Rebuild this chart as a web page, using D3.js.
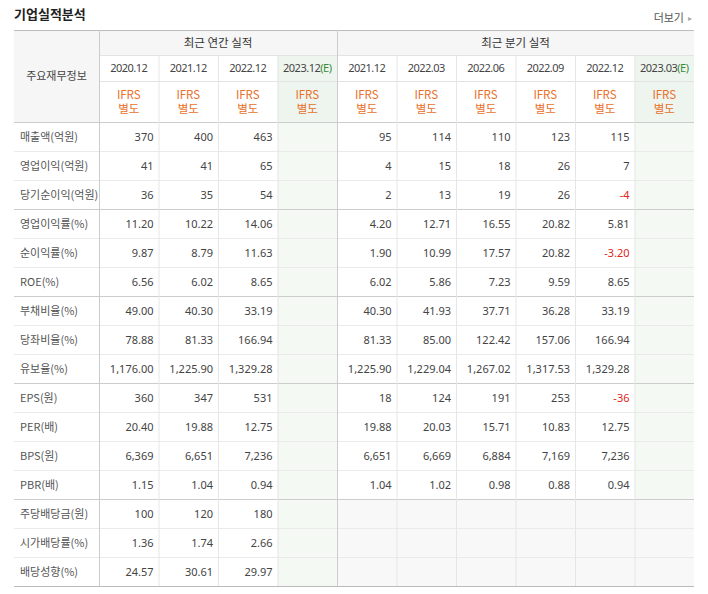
<!DOCTYPE html>
<html><head><meta charset="utf-8">
<script src="https://cdn.jsdelivr.net/npm/d3@7"></script>
<style>body{margin:0;background:#fff;font-family:"Noto Sans CJK KR","Noto Sans",sans-serif}</style>
</head><body><svg id="c" width="708" height="594"></svg>
<script>
'use strict';
var rowLabels = ['매출액(억원)','영업이익(억원)','당기순이익(억원)','영업이익률(%)','순이익률(%)','ROE(%)','부채비율(%)','당좌비율(%)','유보율(%)','EPS(원)','PER(배)','BPS(원)','PBR(배)','주당배당금(원)','시가배당률(%)','배당성향(%)'];
var annualPeriods = ['2020.12','2021.12','2022.12','2023.12'];
var quarterPeriods = ['2021.12','2022.03','2022.06','2022.09','2022.12','2023.03'];
var annualValues = [
  ['370','400','463',''],['41','41','65',''],['36','35','54',''],
  ['11.20','10.22','14.06',''],['9.87','8.79','11.63',''],['6.56','6.02','8.65',''],
  ['49.00','40.30','33.19',''],['78.88','81.33','166.94',''],['1,176.00','1,225.90','1,329.28',''],
  ['360','347','531',''],['20.40','19.88','12.75',''],['6,369','6,651','7,236',''],['1.15','1.04','0.94',''],
  ['100','120','180',''],['1.36','1.74','2.66',''],['24.57','30.61','29.97','']
];
var quarterValues = [
  ['95','114','110','123','115',''],['4','15','18','26','7',''],['2','13','19','26','-4',''],
  ['4.20','12.71','16.55','20.82','5.81',''],['1.90','10.99','17.57','20.82','-3.20',''],['6.02','5.86','7.23','9.59','8.65',''],
  ['40.30','41.93','37.71','36.28','33.19',''],['81.33','85.00','122.42','157.06','166.94',''],['1,225.90','1,229.04','1,267.02','1,317.53','1,329.28',''],
  ['18','124','191','253','-36',''],['19.88','20.03','15.71','10.83','12.75',''],['6,651','6,669','6,884','7,169','7,236',''],['1.04','1.02','0.98','0.88','0.94',''],
  null,null,null
];
var groupEnds = [2,5,8,12];

(() => {
  var svg = d3.select('#c');
  var L = 14, R = 694, labelW = 85, T0 = 30, B = 586;
  var cols = annualPeriods.map((p,i)=>({key:'a'+i,p:p,est:i===3}))
    .concat(quarterPeriods.map((p,i)=>({key:'q'+i,p:p,est:i===5})));
  var x = d3.scaleBand().domain(cols.map(c=>c.key)).range([L+labelW,R]);
  var y = d3.scaleBand().domain(d3.range(rowLabels.length)).range([122,B]);
  var bw = x.bandwidth(), bh = y.bandwidth();

  svg.append('text').attr('x',14).attr('y',19).attr('font-size',13).attr('font-weight','bold').attr('fill','#222').text('기업실적분석');
  svg.append('text').attr('x',684).attr('y',22).attr('font-size',11).attr('fill','#555').attr('text-anchor','end').text('더보기');
  svg.append('text').attr('x',692).attr('y',21).attr('font-size',8).attr('fill','#aaa').attr('text-anchor','end').text('▸');

  // backgrounds
  svg.append('rect').attr('x',L).attr('y',T0).attr('width',labelW).attr('height',92).attr('fill','#f6f6f6');
  svg.append('rect').attr('x',L+labelW).attr('y',T0).attr('width',R-L-labelW).attr('height',25).attr('fill','#f6f6f6');
  svg.selectAll('rect.hb').data(cols).join('rect').attr('x',d=>x(d.key)).attr('y',55).attr('width',bw).attr('height',67)
    .attr('fill',d=>d.est?'#eef5ee':'#fff');
  svg.selectAll('rect.est').data(cols.filter(c=>c.est)).join('rect').attr('x',d=>x(d.key)).attr('y',122).attr('width',bw).attr('height',B-122).attr('fill','#f4f9f4');
  svg.append('rect').attr('x',x('q0')).attr('y',y(13)).attr('width',R-x('q0')).attr('height',bh*3).attr('fill','#f8f8f8');

  var g = svg.append('g');
  function hl(x1,x2,yy,c){g.append('line').attr('x1',x1).attr('x2',x2).attr('y1',yy+0.5).attr('y2',yy+0.5).attr('stroke',c);}
  function vl(xx,y1,y2,c){g.append('line').attr('x1',xx+0.5).attr('x2',xx+0.5).attr('y1',y1).attr('y2',y2).attr('stroke',c);}
  hl(L,R,T0,'#bbb');
  hl(L+labelW,R,55,'#e3e3e3');
  hl(L+labelW,R,81,'#e3e3e3');
  hl(L,R,122,'#ccc');
  rowLabels.forEach((r,i)=>{ if(i<rowLabels.length-1) hl(L,R,y(i)+bh, groupEnds.includes(i)?'#ccc':'#eaeaea'); });
  hl(L,R,B,'#bbb');
  vl(L+labelW,T0,B,'#ccc');
  vl(x('q0'),T0,B,'#ccc');
  cols.forEach(c=>{ if(c.key!=='a0'&&c.key!=='q0') vl(x(c.key),55,B,'#e6e6e6'); });

  // headers
  svg.append('text').attr('x',L+labelW/2).attr('y',80).attr('text-anchor','middle').attr('font-size',11).attr('fill','#444').text('주요재무정보');
  svg.append('text').attr('x',(x('a0')+x('q0'))/2).attr('y',47).attr('text-anchor','middle').attr('font-size',11.5).attr('fill','#333').text('최근 연간 실적');
  svg.append('text').attr('x',(x('q0')+R)/2).attr('y',47).attr('text-anchor','middle').attr('font-size',11.5).attr('fill','#333').text('최근 분기 실적');
  var ph = svg.selectAll('text.p').data(cols).join('text').attr('x',d=>x(d.key)+bw/2).attr('y',72)
    .attr('text-anchor','middle').attr('font-size',11).attr('fill','#444').attr('font-family','Noto Sans,sans-serif').attr('letter-spacing',-0.5);
  ph.append('tspan').text(d=>d.p);
  ph.filter(d=>d.est).append('tspan').attr('fill','#3a8a3a').text('(E)');
  svg.selectAll('text.i1').data(cols).join('text').attr('x',d=>x(d.key)+bw/2).attr('y',99).attr('text-anchor','middle')
    .attr('font-size',11.5).attr('fill','#e8702a').text('IFRS');
  svg.selectAll('text.i2').data(cols).join('text').attr('x',d=>x(d.key)+bw/2).attr('y',113).attr('text-anchor','middle')
    .attr('font-size',11.5).attr('fill','#e8702a').text('별도');

  // rows
  svg.selectAll('text.rl').data(rowLabels).join('text').attr('x',L+6).attr('y',(d,i)=>y(i)+bh/2+4)
    .attr('font-size',11).attr('fill','#555').text(d=>d);
  rowLabels.forEach((r,i)=>{
    var vals = annualValues[i].map((v,j)=>({k:'a'+j,v:v}));
    if(quarterValues[i]) vals = vals.concat(quarterValues[i].map((v,j)=>({k:'q'+j,v:v})));
    svg.append('g').selectAll('text').data(vals.filter(d=>d.v)).join('text').attr('x',d=>x(d.k)+bw-5).attr('y',y(i)+bh/2+4)
      .attr('text-anchor','end').attr('font-size',11).attr('font-family','Noto Sans,sans-serif')
      .attr('fill',d=>d.v[0]==='-'?'#e0261d':'#444').text(d=>d.v);
  });
})();
</script></body></html>
